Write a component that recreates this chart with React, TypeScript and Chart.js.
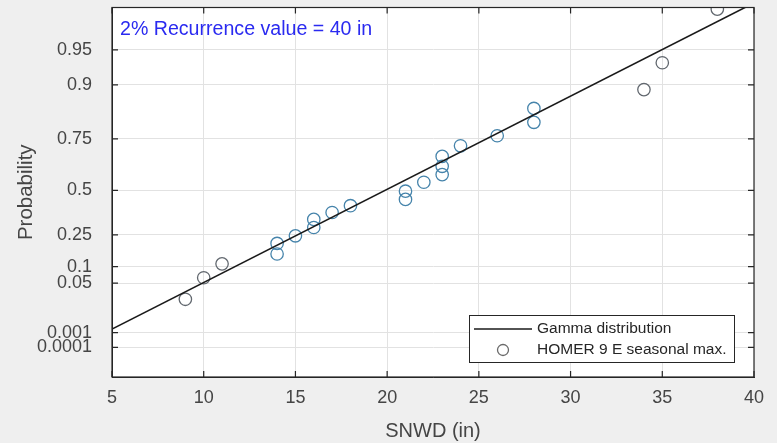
import React, { useEffect, useRef } from "react";
import { Chart, registerables } from "chart.js";

Chart.register(...registerables);

// ---- data ----
const xTicks = [5, 10, 15, 20, 25, 30, 35, 40];
const probLabels = ["0.0001", "0.001", "0.05", "0.1", "0.25", "0.5", "0.75", "0.9", "0.95"];
// fitted-gamma quantiles (in) at which each probability label sits
const probPositions = [3.03, 4.63, 9.93, 11.71, 15.12, 19.88, 25.42, 31.2, 34.96];
const snwd = [9, 10, 11, 14, 14, 15, 16, 16, 17, 18, 21, 21, 22, 23, 23, 23, 24, 26, 28, 28, 34, 35, 38];
const quantiles = [
  8.2, 10.51, 12.0, 13.06, 14.19, 15.01, 15.9, 16.77, 17.51, 18.24, 18.92, 19.8, 20.76, 21.58, 22.47,
  23.53, 24.67, 25.75, 27.19, 28.68, 30.7, 33.58, 39.33,
];
const fitX = [5, 40];
const fitY = [5, 40];
const seriesNames = ["Gamma distribution", "HOMER 9 E seasonal max."];
const annotation = "2% Recurrence value = 40 in";
const xTitle = "SNWD (in)";
const yTitle = "Probability";

const FONT = "'Liberation Sans', Arial, Helvetica, sans-serif";
const TXT = "#454545";

export default function App() {
  const ref = useRef<HTMLCanvasElement | null>(null);

  useEffect(() => {
    const canvas = ref.current!;
    const pointColors = snwd.map((x) => (x >= 14 && x <= 28 ? "#4684ab" : "#62686f"));

    const framePlugin = {
      id: "frame",
      beforeDraw(chart: any) {
        const { ctx, chartArea: a } = chart;
        ctx.save();
        ctx.fillStyle = "#efefef";
        ctx.fillRect(0, 0, chart.width, chart.height);
        ctx.fillStyle = "#ffffff";
        ctx.fillRect(a.left, a.top, a.right - a.left, a.bottom - a.top);
        ctx.restore();
      },
      afterDraw(chart: any) {
        const { ctx, chartArea: a, scales } = chart;
        ctx.save();
        // box
        ctx.strokeStyle = "#262626";
        ctx.lineWidth = 1.2;
        ctx.strokeRect(a.left, a.top, a.right - a.left, a.bottom - a.top);
        // inward ticks
        const tl = 6;
        ctx.beginPath();
        xTicks.forEach((v) => {
          const px = scales.x.getPixelForValue(v);
          ctx.moveTo(px, a.bottom);
          ctx.lineTo(px, a.bottom - tl);
          ctx.moveTo(px, a.top);
          ctx.lineTo(px, a.top + tl);
        });
        probPositions.forEach((v) => {
          const py = scales.y.getPixelForValue(v);
          ctx.moveTo(a.left, py);
          ctx.lineTo(a.left + tl, py);
          ctx.moveTo(a.right, py);
          ctx.lineTo(a.right - tl, py);
        });
        ctx.stroke();

        // annotation
        ctx.fillStyle = "#2a2af0";
        ctx.font = `19.6px ${FONT}`;
        ctx.textBaseline = "alphabetic";
        ctx.textAlign = "left";
        ctx.fillText(annotation, a.left + 8, a.top + 27);

        // legend
        const lw = 265;
        const lh = 47;
        const lx = a.right - 285;
        const ly = a.bottom - 62;
        ctx.fillStyle = "#ffffff";
        ctx.fillRect(lx, ly, lw, lh);
        ctx.strokeStyle = "#262626";
        ctx.lineWidth = 1;
        ctx.strokeRect(lx + 0.5, ly + 0.5, lw, lh);
        ctx.strokeStyle = "#1a1a1a";
        ctx.lineWidth = 1.5;
        ctx.beginPath();
        ctx.moveTo(lx + 5, ly + 14);
        ctx.lineTo(lx + 63, ly + 14);
        ctx.stroke();
        ctx.strokeStyle = "#6a6a6a";
        ctx.lineWidth = 1.3;
        ctx.beginPath();
        ctx.arc(lx + 34, ly + 35, 5.5, 0, Math.PI * 2);
        ctx.stroke();
        ctx.fillStyle = "#262626";
        ctx.font = `15.5px ${FONT}`;
        ctx.textBaseline = "middle";
        ctx.fillText(seriesNames[0], lx + 68, ly + 14);
        ctx.fillText(seriesNames[1], lx + 68, ly + 35);
        ctx.restore();
      },
    };

    const chart = new Chart(canvas, {
      type: "scatter",
      data: {
        datasets: [
          {
            type: "line",
            label: seriesNames[0],
            data: fitX.map((x, i) => ({ x, y: fitY[i] })),
            borderColor: "#1a1a1a",
            borderWidth: 1.6,
            pointRadius: 0,
            fill: false,
          } as any,
          {
            type: "scatter",
            label: seriesNames[1],
            data: snwd.map((x, i) => ({ x, y: quantiles[i] })),
            pointRadius: 6.2,
            pointBorderColor: pointColors,
            pointBackgroundColor: "rgba(0,0,0,0)",
            pointBorderWidth: 1.3,
          },
        ],
      },
      options: {
        responsive: false,
        animation: false,
        devicePixelRatio: 1,
        layout: { padding: { left: 0, top: 5, right: 23, bottom: 0 } },
        plugins: { legend: { display: false }, tooltip: { enabled: false } },
        scales: {
          x: {
            type: "linear",
            min: 5,
            max: 40,
            afterBuildTicks: (s: any) => {
              s.ticks = xTicks.map((v) => ({ value: v }));
            },
            afterFit: (s: any) => {
              s.height = 66;
              s.paddingLeft = 0;
              s.paddingRight = 0;
              s.paddingTop = 0;
              s.paddingBottom = 0;
            },
            ticks: { color: TXT, font: { family: FONT, size: 18 }, padding: 10, maxRotation: 0, autoSkip: false },
            grid: { color: "#e2e2e2", drawTicks: false, lineWidth: 1 },
            border: { display: true, color: "#262626" },
            title: { display: true, text: xTitle, color: TXT, font: { family: FONT, size: 20 }, padding: { top: 0, bottom: 0 } },
          },
          y: {
            type: "linear",
            min: -0.14,
            max: 39.51,
            afterBuildTicks: (s: any) => {
              s.ticks = probPositions.map((v) => ({ value: v }));
            },
            afterFit: (s: any) => {
              s.width = 112;
              s.paddingLeft = 0;
              s.paddingRight = 0;
              s.paddingTop = 0;
              s.paddingBottom = 0;
            },
            ticks: {
              color: TXT,
              font: { family: FONT, size: 18 },
              padding: 20,
              autoSkip: false,
              callback: (_v: any, i: number) => probLabels[i],
            },
            grid: { color: "#e2e2e2", drawTicks: false, lineWidth: 1 },
            border: { display: true, color: "#262626" },
            title: { display: true, text: yTitle, color: TXT, font: { family: FONT, size: 20.5 }, padding: { top: 14, bottom: 0 } },
          },
        },
      },
      plugins: [framePlugin],
    } as any);

    return () => chart.destroy();
  }, []);

  return (
    <div style={{ position: "fixed", left: 0, top: 0, width: 777, height: 443 }}>
      <canvas ref={ref} width={777} height={443} style={{ display: "block", width: 777, height: 443 }} />
    </div>
  );
}
